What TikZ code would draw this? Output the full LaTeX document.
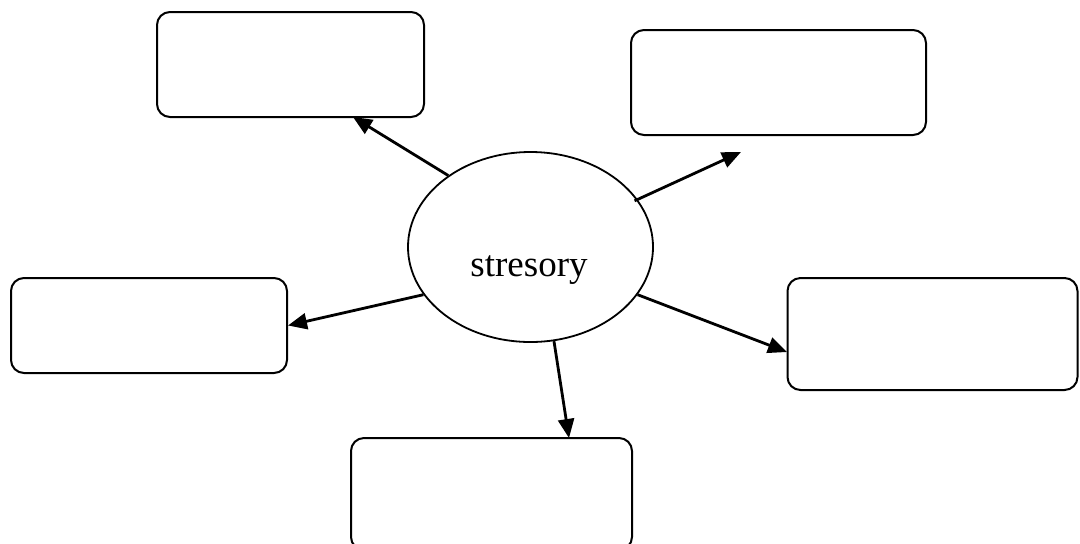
\documentclass[tikz,border=0pt]{standalone}
\usepackage{fontspec}
\setmainfont{Liberation Serif}
\usetikzlibrary{shapes.geometric,arrows.meta}
\begin{document}
\begin{tikzpicture}[x=.5pt,y=-.5pt,line join=round,>={Triangle[length=9.5pt,width=8pt]}]
		\tikzset{box/.style={draw,line width=1pt,rounded corners=6.5pt,inner sep=0pt},
			link/.style={->,line width=1.4pt}}
		\useasboundingbox (0,0) rectangle (1080,543);
		% centre
		\node[draw,ellipse,line width=.9pt,minimum width=122.5pt,minimum height=95pt,inner sep=0pt] (ell) at (530.5,247) {};
		\node[font=\fontsize{18.5}{22}\selectfont,inner sep=0pt] (lbl) at (529,270) {stresory};
		% boxes
		\node[box,minimum width=133.5pt,minimum height=52.5pt] (tl) at (290.5,64.5) {};
		\node[box,minimum width=147.5pt,minimum height=52.5pt] (tr) at (778.5,82.5) {};
		\node[box,minimum width=138pt,minimum height=47.5pt] (lt) at (149,325.5) {};
		\node[box,minimum width=145pt,minimum height=56pt] (rt) at (932.5,334) {};
		\node[box,minimum width=140.5pt,minimum height=56pt] (bt) at (491.5,494) {};
		% free ends
		\coordinate (tlend) at (353,117);
		\coordinate (trend) at (741,152);
		\coordinate (rtend) at (787,352);
		\coordinate (btend) at (569,438);
		\draw[link] (ell.139) -- (tlend);
		\draw[link] ([shift={(-3,1.5)}]ell.24) -- (trend);
		\draw[link] (ell.204.5) -- (lt.east);
		\draw[link] (ell.336.7) -- (rtend);
		\draw[link] (ell.284.8) -- (btend);
\end{tikzpicture}
\end{document}
